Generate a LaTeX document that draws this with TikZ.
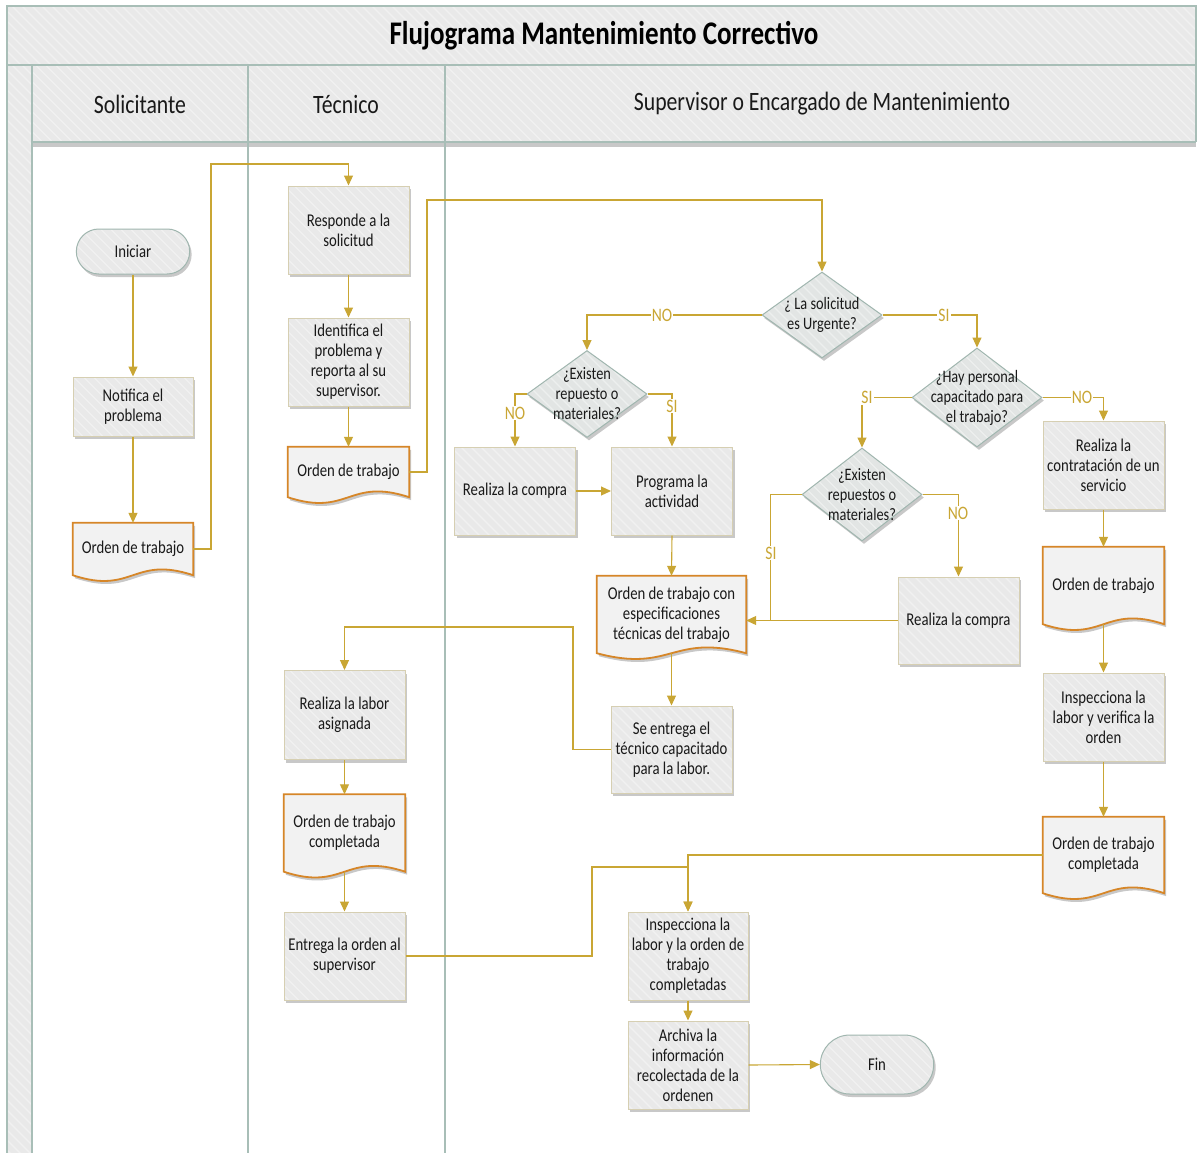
\documentclass[tikz,border=0pt]{standalone}
\usepackage{fontspec}
\setmainfont{Carlito}[FakeStretch=0.82]
\usetikzlibrary{arrows.meta,shapes.geometric,shapes.misc,shadows,calc,backgrounds}

\definecolor{flowcol}{RGB}{201,166,52}
\definecolor{lanecol}{RGB}{168,190,183}
\definecolor{bandfill}{RGB}{233,233,233}
\definecolor{boxfill}{RGB}{233,233,233}
\definecolor{boxline}{RGB}{214,207,178}
\definecolor{diafill}{RGB}{226,229,228}
\definecolor{dialine}{RGB}{160,182,175}
\definecolor{docline}{RGB}{214,134,40}
\definecolor{docfill}{RGB}{242,242,242}
\definecolor{shadowcol}{RGB}{200,200,200}
\definecolor{inkcol}{RGB}{25,25,25}

\pgfdeclarelayer{lanes}
\pgfdeclarelayer{docs}
\pgfsetlayers{lanes,docs,main}

\newcommand\boxfont{\fontsize{18}{20}\selectfont}
\newcommand\diafont{\fontsize{17.5}{20}\selectfont}

% wavy-bottom document outline around a named node
\newcommand\docshape[1]{%
  \fill[shadowcol,transform canvas={shift={(2pt,-3pt)}}]
    (#1.north west) -- (#1.north east) -- (#1.south east)
    .. controls ($(#1.south)+(0,-20)$) and ($(#1.south)+(0,20)$) .. (#1.south west) -- cycle;
  \filldraw[fill=docfill,draw=docline,line width=1.8pt,line join=miter]
    (#1.north west) -- (#1.north east) -- (#1.south east)
    .. controls ($(#1.south)+(0,-20)$) and ($(#1.south)+(0,20)$) .. (#1.south west) -- cycle;
}

\tikzset{
  hatchline/.style={white,opacity=0.4,line width=1.1pt},
  hatch/.style={path picture={
    \foreach \k in {-#1,...,#1}
      \draw[hatchline] ($(path picture bounding box.center)+(\k*10-600,-600)$) -- ++(1200,1200);}},
  shade3/.style={general shadow={shadow xshift=2pt,shadow yshift=-3pt,fill=shadowcol}},
  proc/.style={draw=boxline,fill=boxfill,line width=1pt,hatch=13,shade3,
    align=center,font=\boxfont,text=inkcol,inner sep=1pt},
  term/.style={rounded rectangle,draw=dialine,fill=boxfill,line width=1pt,hatch=13,shade3,
    align=center,font=\boxfont,text=inkcol,minimum width=120pt},
  dia/.style={diamond,draw=dialine,fill=diafill,line width=1pt,hatch=13,shade3,inner sep=0pt},
  diatext/.style={align=center,font=\diafont,text=inkcol,inner sep=0pt},
  docnode/.style={align=center,font=\boxfont,text=inkcol,inner sep=0pt},
  lane/.style={draw=lanecol,line width=1.4pt},
  flowline/.style={draw=flowcol,line width=1.1pt},
  flow/.style={flowline,-{Triangle[length=10pt,width=9pt]}},
  lbl/.style={fill=white,inner sep=1pt,text=flowcol,font=\fontsize{19}{20}\selectfont},
  header/.style={font=\fontsize{26.5}{28}\selectfont,text=inkcol},
}

\begin{document}
\begin{tikzpicture}[x=1pt,y=-1pt]
\useasboundingbox (0,0) rectangle (1197,1152);

% ---------- pool, title band, lane headers ----------
\begin{pgfonlayer}{lanes}
  \fill[white] (0,0) rectangle (1197,1152);
  \path[fill=bandfill,hatch=64] (7,6) rectangle (1196,65);
  \path[fill=bandfill,hatch=58] (7,65) rectangle (32,1160);
  \path[fill=bandfill,hatch=63] (32,65) rectangle (1196,142);
  \fill[shadowcol] (33,142) rectangle (1196,146.5);
  \draw[lane] (7,1160) -- (7,6) -- (1196,6) -- (1196,142);
  \draw[lane] (7,65) -- (1196,65);
  \draw[lane] (32,142) -- (1196,142);
  \draw[lane] (32,65) -- (32,1160);
  \draw[lane] (248,65) -- (248,1160);
  \draw[lane] (445,65) -- (445,1160);
\end{pgfonlayer}

\node[font=\fontsize{33}{34}\selectfont\bfseries,text=black] (title) at (604,36) {Flujograma Mantenimiento Correctivo};
\node[header] (hsol) at (140,104) {Solicitante};
\node[header] (htec) at (346,104) {Técnico};
\node[header] (hsup) at (822,104) {Supervisor o Encargado de Mantenimiento};

% ---------- Solicitante ----------
\node[term,minimum height=45pt] (ini) at (133,251.5) {Iniciar};
\node[proc,minimum width=120pt,minimum height=59pt] (notif) at (133,406.5) {Notifica el\\problema};
\node[docnode,minimum width=120pt,minimum height=52pt] (doc1) at (133,549) {Orden de trabajo};

% ---------- Técnico ----------
\node[proc,minimum width=121pt,minimum height=88pt] (resp) at (348.5,230) {Responde a la\\solicitud};
\node[proc,minimum width=121pt,minimum height=88pt] (ident) at (348.5,362) {Identifica el\\problema y\\reporta al su\\supervisor.};
\node[docnode,minimum width=121pt,minimum height=50pt] (doc2) at (348.5,472) {Orden de trabajo};
\node[proc,minimum width=121pt,minimum height=89pt] (labor) at (344.5,715) {Realiza la labor\\asignada};
\node[docnode,minimum width=121pt,minimum height=77pt] (doc4) at (344.5,833) {Orden de trabajo\\completada};
\node[proc,minimum width=121pt,minimum height=88pt] (entrega) at (344.5,956) {Entrega la orden al\\supervisor};

% ---------- Supervisor ----------
\node[dia,minimum width=120pt,minimum height=86pt,
  label={[diatext]center:{¿ La solicitud\\es Urgente?}}] (d1) at (822,315) {};
\node[dia,minimum width=120pt,minimum height=87pt,
  label={[diatext]center:{¿Existen\\repuesto o\\materiales?}}] (d2) at (587,394) {};
\node[proc,minimum width=121pt,minimum height=88pt] (compra1) at (515,491) {Realiza la compra};
\node[proc,minimum width=121pt,minimum height=88pt] (prog) at (672,491) {Programa la\\actividad};
\node[docnode,minimum width=149pt,minimum height=77pt] (doc3) at (671.5,614.5) {Orden de trabajo con\\especificaciones\\técnicas del trabajo};
\node[proc,minimum width=121pt,minimum height=87pt] (entregatec) at (671.5,749.5) {Se entrega el\\técnico capacitado\\para la labor.};
\node[dia,minimum width=130pt,minimum height=99pt,
  label={[diatext]center:{¿Hay personal\\capacitado para\\el trabajo?}}] (d3) at (977,397.5) {};
\node[dia,minimum width=120pt,minimum height=93pt,
  label={[diatext]center:{¿Existen\\repuestos o\\materiales?}}] (d4) at (862,494.5) {};
\node[proc,minimum width=121pt,minimum height=87pt] (compra2) at (958.5,620.5) {Realiza la compra};
\node[proc,minimum width=121pt,minimum height=88pt] (contrat) at (1103.5,465) {Realiza la\\contratación de un\\servicio};
\node[docnode,minimum width=121pt,minimum height=77pt] (doc5) at (1103.5,585.5) {Orden de trabajo};
\node[proc,minimum width=121pt,minimum height=88pt] (inspver) at (1103.5,717) {Inspecciona la\\labor y verifica la\\orden};
\node[docnode,minimum width=121pt,minimum height=76pt] (doc6) at (1103.5,855) {Orden de trabajo\\completada};
\node[proc,minimum width=120pt,minimum height=88pt] (insp2) at (688,956) {Inspecciona la\\labor y la orden de\\trabajo\\completadas};
\node[proc,minimum width=120pt,minimum height=88pt] (archiva) at (688,1065) {Archiva la\\información\\recolectada de la\\ordenen};
\node[term,minimum height=59pt] (fin) at (877,1064.5) {Fin};

% document outlines behind their texts
\begin{pgfonlayer}{docs}
  \docshape{doc1}
  \docshape{doc2}
  \docshape{doc3}
  \docshape{doc4}
  \docshape{doc5}
  \docshape{doc6}
\end{pgfonlayer}

% ---------- connectors ----------
\draw[flow] (ini.south) -- (notif.north);
\draw[flow] (notif.south) -- (doc1.north);
\draw[flow] (doc1.east) -| (211,164) -| (resp.north);
\draw[flow] (resp.south) -- (ident.north);
\draw[flow] (ident.south) -- (doc2.north);
\draw[flow] (doc2.east) -| (427,200) -| (d1.north);
\draw[flow] (d1.west) -| (d2.north);
\draw[flow] (d1.east) -| (d3.north);
\draw[flow] (d2.west) -| (compra1.north);
\draw[flow] (d2.east) -| (prog.north);
\draw[flow] (compra1.east) -- (prog.west);
\draw[flow] (prog.south) -- (doc3.north);
\draw[flow] (doc3.south) -- (entregatec.north);
\draw[flow] (entregatec.west) -| (573,627) -| (labor.north);
\draw[flow] (labor.south) -- (doc4.north);
\draw[flow] (doc4.south) -- (entrega.north);
\draw[flow] (entrega.east) -| (592,867) -| (insp2.north);
\draw[flow] (doc6.west) -| (insp2.north);
\draw[flow] (insp2.south) -- (archiva.north);
\draw[flow] (archiva.east) -- (fin.west);
\draw[flow] (d3.west) -| (d4.north);
\draw[flow] (d3.east) -| (contrat.north);
\coordinate (join) at ($(doc3.east |- compra2.west)+(24,0)$);
\draw[flowline] (d4.west) -| (join);
\draw[flow] (compra2.west) -- (doc3.east |- compra2.west);
\draw[flow] (d4.east) -| (compra2.north);
\draw[flow] (contrat.south) -- (doc5.north);
\draw[flow] (doc5.south) -- (inspver.north);
\draw[flow] (inspver.south) -- (doc6.north);

% ---------- branch labels ----------
\node[lbl] (l1) at (662,315) {NO};
\node[lbl] (l2) at (944,315) {SI};
\node[lbl] (l3) at (515,413) {NO};
\node[lbl] (l4) at (672,406) {SI};
\node[lbl] (l5) at (867,397.5) {SI};
\node[lbl] (l6) at (1082,397.5) {NO};
\node[lbl] (l7) at (771,553) {SI};
\node[lbl] (l8) at (958,513) {NO};
\end{tikzpicture}
\end{document}
